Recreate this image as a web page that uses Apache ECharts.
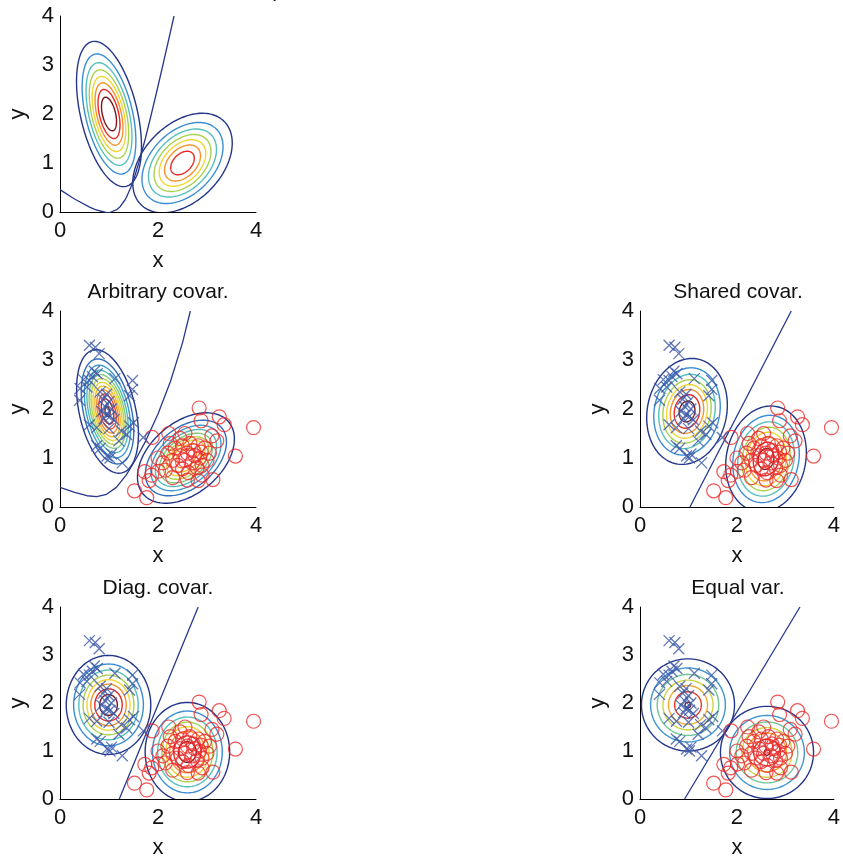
<!DOCTYPE html>
<html><head><meta charset="utf-8">
<script src="https://cdn.jsdelivr.net/npm/echarts@6/dist/echarts.min.js"></script>
<style>html,body{margin:0;padding:0;background:#fff}#c{width:843px;height:860px}</style>
</head><body><div id="c"></div>
<script>
// ---------------- data ----------------
const blueX = [0.60,0.72,0.80,0.70,0.76,0.66,0.48,0.60,0.41,0.40,0.55,1.12,1.48,1.48,1.42,0.82,0.95,0.88,1.00,0.92,1.05,0.85,0.95,1.02,0.90,1.10,0.60,0.75,1.00,1.25,1.42,1.50,1.36,1.70,0.75,0.82,0.96,1.02,1.05,1.27,1.20];
const blueY = [3.30,3.26,3.13,2.77,2.72,2.66,2.60,2.58,2.42,2.18,2.45,2.62,2.58,2.40,2.27,2.35,2.30,2.20,2.15,2.05,2.00,1.95,1.88,1.85,1.80,1.78,1.68,1.62,1.60,1.55,1.65,1.72,1.48,1.42,1.25,1.20,1.04,1.00,1.08,0.90,1.35];
const redX = [2.84,2.88,3.25,3.35,3.95,3.58,1.52,1.77,1.73,1.87,1.82,2.01,1.88,2.22,2.55,3.12,2.82,3.10,3.20,2.20,2.30,2.35,2.40,2.45,2.50,2.50,2.55,2.60,2.62,2.65,2.70,2.72,2.75,2.80,2.82,2.85,2.88,2.90,2.95,3.00,3.05,2.10,2.15,2.30,2.45,2.90,2.60,2.25,2.00];
const redY = [2.02,1.76,1.84,1.68,1.62,1.04,0.33,0.19,0.72,0.65,0.54,0.73,1.42,1.50,1.50,0.56,0.54,1.45,1.35,1.10,0.95,1.20,0.85,1.05,0.78,1.25,0.95,1.10,0.70,1.30,0.90,1.15,1.05,0.80,1.25,1.00,1.12,0.85,1.20,0.95,1.10,0.90,0.75,0.60,1.40,0.65,0.55,1.30,1.00];

const panelTitles = ['Class-conditional densities p', 'Arbitrary covar.', 'Shared covar.', 'Diag. covar.', 'Equal var.'];
const xTicks = [0, 2, 4];
const yTicks = [0, 1, 2, 3, 4];
const axisNames = ['x', 'y'];

// Gaussian parameters: [meanX, meanY, varX, covXY, varY, peak/levelStep]
const gaussTrue = [[1.00, 2.00, 0.100, -0.100, 0.500, 9.0], [2.50, 1.00, 0.250, 0.100, 0.250, 7.86]];
const gaussArbitrary = [[0.97, 1.95, 0.0795, -0.0588, 0.3176, 12.2], [2.57, 1.00, 0.2125, 0.0833, 0.185, 10.0]];
const gaussShared = [[0.97, 1.95, 0.160, 0.025, 0.270, 8.7], [2.60, 0.98, 0.160, 0.025, 0.270, 8.7]];
const gaussDiag = [[0.99, 1.96, 0.171, 0.0, 0.245, 8.8], [2.60, 0.98, 0.171, 0.0, 0.245, 8.8]];
const gaussEqual = [[0.99, 1.96, 0.236, 0.0, 0.236, 7.05], [2.62, 0.97, 0.236, 0.0, 0.236, 7.05]];
const levelCounts = [8, 12, 8, 8, 7];

// decision boundaries
const boundTrueX = [0.00, 0.24, 0.325, 0.605, 0.721, 0.898, 0.97, 1.04, 1.161, 1.22, 1.329, 1.356, 1.444, 1.531, 1.607, 1.742, 1.865, 1.984, 2.10, 2.214, 2.327];
const boundTrueY = [0.456, 0.30, 0.25, 0.10, 0.05, 0.00, -0.02, 0.00, 0.05, 0.10, 0.25, 0.30, 0.50, 0.75, 1.00, 1.50, 2.00, 2.50, 3.00, 3.50, 4.00];
const boundArbX = [0.00, 0.30, 0.55, 0.75, 0.95, 1.15, 1.35, 1.55, 1.75, 2.00, 2.25, 2.50, 2.66];
const boundArbY = [0.40, 0.30, 0.23, 0.21, 0.26, 0.40, 0.65, 0.98, 1.35, 1.90, 2.55, 3.35, 4.00];
const boundSharedX = [1.03, 3.12], boundSharedY = [0.00, 4.00];
const boundDiagX = [1.21, 2.82], boundDiagY = [0.00, 4.00];
const boundEqualX = [0.92, 3.30], boundEqualY = [0.00, 4.00];

// ---------------- styling / layout ----------------
const gridBoxes = [
  {left: 60, top: 16}, {left: 60, top: 311}, {left: 640, top: 311},
  {left: 60, top: 607}, {left: 640, top: 607}
];
const PLOT = 196;
const FONT = '"Liberation Sans", Arial, Helvetica, sans-serif';
const navy = '#28388c';
const blueMark = '#3a57a6';
const redMark = '#ea2a2a';
const stops = ['#24368a', '#3a8dd4', '#55c0bc', '#a9d24e', '#f1d634', '#f4932a', '#e42a26', '#7c1518'];
function hex2rgb(h) { return [parseInt(h.substr(1,2),16), parseInt(h.substr(3,2),16), parseInt(h.substr(5,2),16)]; }
function palette(t) {
  const n = stops.length - 1; const f = Math.max(0, Math.min(1, t)) * n;
  const i = Math.min(n - 1, Math.floor(f)); const u = f - i;
  const a = hex2rgb(stops[i]), b = hex2rgb(stops[i + 1]);
  return 'rgb(' + a.map((v, j) => Math.round(v + (b[j] - v) * u)).join(',') + ')';
}
function contourData(gs, K) {
  const out = [];
  gs.forEach(g => {
    for (let k = 1; k < g[5]; k++) {
      const r = Math.sqrt(2 * Math.log(g[5] / k));
      out.push([g[0], g[1], g[2], g[3], g[4], r, (k - 1) / (K - 1)]);
    }
  });
  return out;
}
function renderEllipse(params, api) {
  const mx = api.value(0), my = api.value(1), a = api.value(2), b = api.value(3), d = api.value(4);
  const r = api.value(5), t = api.value(6);
  const tr = a + d, det = a * d - b * b;
  const disc = Math.sqrt(Math.max(0, tr * tr / 4 - det));
  const l1 = tr / 2 + disc, l2 = tr / 2 - disc;
  const ang = Math.abs(b) < 1e-12 ? (a >= d ? 0 : Math.PI / 2) : Math.atan2(l1 - a, b);
  const s1 = Math.sqrt(l1) * r, s2 = Math.sqrt(Math.max(l2, 0)) * r;
  const pts = [];
  for (let i = 0; i <= 120; i++) {
    const th = i / 120 * 2 * Math.PI;
    const u = s1 * Math.cos(th), v = s2 * Math.sin(th);
    pts.push(api.coord([mx + u * Math.cos(ang) - v * Math.sin(ang), my + u * Math.sin(ang) + v * Math.cos(ang)]));
  }
  return {type: 'polyline', shape: {points: pts}, style: {fill: null, stroke: palette(t), lineWidth: 1.4}};
}
function zip(xs, ys) { return xs.map((x, i) => [x, ys[i]]); }

const gaussSets = [gaussTrue, gaussArbitrary, gaussShared, gaussDiag, gaussEqual];
const bounds = [[boundTrueX, boundTrueY], [boundArbX, boundArbY], [boundSharedX, boundSharedY], [boundDiagX, boundDiagY], [boundEqualX, boundEqualY]];

const grids = [], xAxes = [], yAxes = [], series = [], graphics = [];
const labelStyle = {fontFamily: FONT, fontSize: 22, color: '#111'};
gridBoxes.forEach((g, i) => {
  grids.push({left: g.left, top: g.top, width: PLOT, height: PLOT, containLabel: false});
  const common = {
    gridIndex: i, type: 'value', min: 0, max: 4,
    axisLine: {show: true, onZero: false, lineStyle: {color: '#000', width: 1}},
    axisTick: {show: false}, splitLine: {show: false},
    nameTextStyle: labelStyle
  };
  xAxes.push(Object.assign({}, common, {interval: 2, name: axisNames[0], nameLocation: 'middle', nameGap: 38,
    axisLabel: Object.assign({}, labelStyle, {margin: 8, formatter: v => xTicks.indexOf(v) >= 0 ? String(v) : ''})}));
  yAxes.push(Object.assign({}, common, {interval: 1, name: axisNames[1], nameLocation: 'middle', nameGap: 31,
    axisLabel: Object.assign({}, labelStyle, {margin: 6, formatter: v => yTicks.indexOf(v) >= 0 ? String(v) : ''})}));
  series.push({
    type: 'custom', xAxisIndex: i, yAxisIndex: i, coordinateSystem: 'cartesian2d', clip: true, silent: true,
    renderItem: renderEllipse, data: contourData(gaussSets[i], levelCounts[i]), encode: {x: 0, y: 1}, z: 1
  });
  series.push({
    type: 'line', xAxisIndex: i, yAxisIndex: i, data: zip(bounds[i][0], bounds[i][1]), symbol: 'none',
    lineStyle: {color: navy, width: 1.3}, clip: true, silent: true, z: 2
  });
  if (i > 0) {
    series.push({
      type: 'scatter', xAxisIndex: i, yAxisIndex: i, data: zip(redX, redY), symbol: 'circle', symbolSize: 14,
      itemStyle: {color: 'transparent', borderColor: redMark, borderWidth: 1.2}, silent: true, z: 3
    });
    series.push({
      type: 'scatter', xAxisIndex: i, yAxisIndex: i, data: zip(blueX, blueY), symbol: 'path://M0,0L10,10M10,0L0,10', symbolSize: 11,
      itemStyle: {color: 'transparent', borderColor: blueMark, borderWidth: 1.3}, silent: true, z: 4
    });
  }
  if (i > 0) {
    graphics.push({type: 'text', x: g.left + PLOT / 2, y: g.top - 8, style: {text: panelTitles[i], font: '21px ' + FONT, fill: '#111', textAlign: 'center', textVerticalAlign: 'bottom'}});
  } else {
    graphics.push({type: 'text', x: 284, y: 2, style: {text: panelTitles[0], font: '21px ' + FONT, fill: '#111', textAlign: 'right', textVerticalAlign: 'bottom'}});
  }
});

const chart = echarts.init(document.getElementById('c'), null, {renderer: 'canvas'});
chart.setOption({
  animation: false, backgroundColor: '#fff',
  grid: grids, xAxis: xAxes, yAxis: yAxes, series: series, graphic: graphics
});
</script></body></html>
